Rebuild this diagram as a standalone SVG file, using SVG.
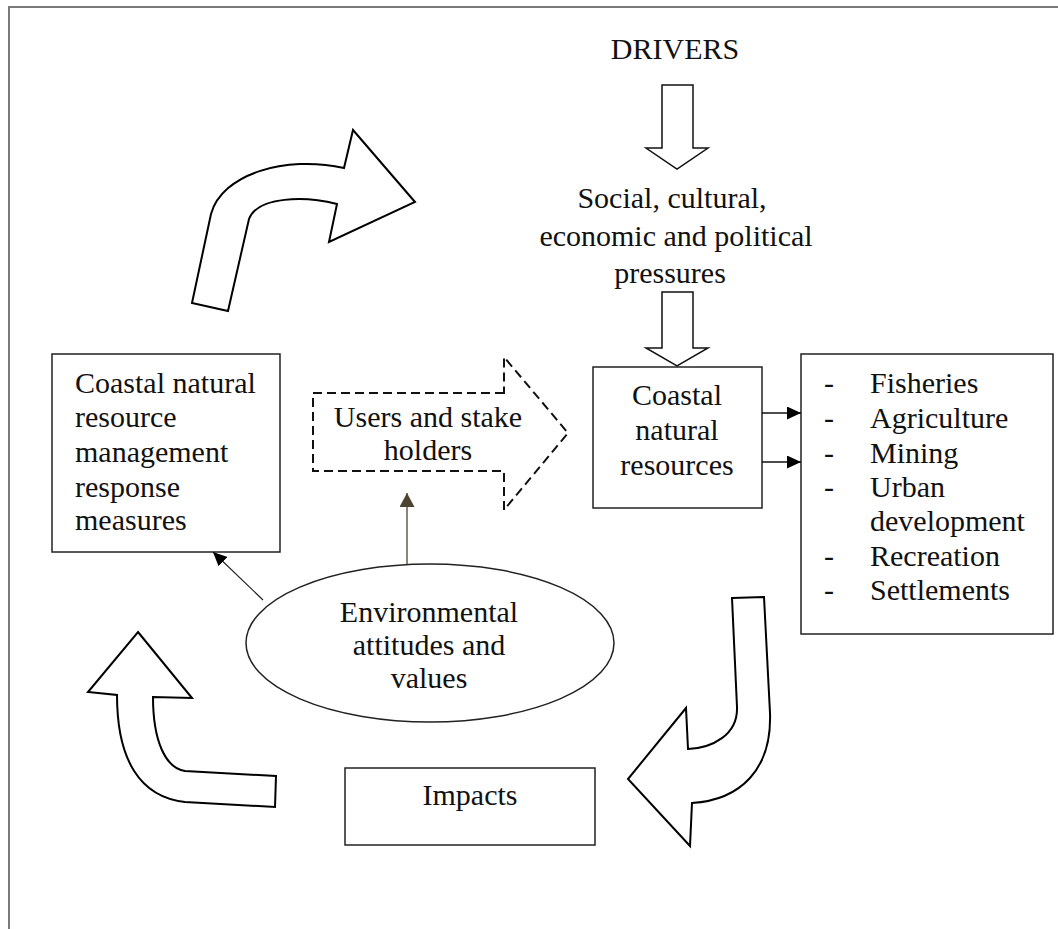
<svg xmlns="http://www.w3.org/2000/svg" width="1058" height="929" viewBox="0 0 1058 929">
  <style>
    text { font-family: "Liberation Serif", "Times New Roman", serif; font-size: 30px; fill: #111; }
    .c { text-anchor: middle; }
    .box { fill: #fff; stroke: #222; stroke-width: 1.5; }
    .bend { fill: #fff; stroke: #000; stroke-width: 2; stroke-linejoin: miter; }
    .block { fill: #fff; stroke: #111; stroke-width: 1.5; }
    .dash { fill: none; stroke: #111; stroke-width: 2; stroke-dasharray: 9 5; }
    .link { fill: none; stroke: #111; stroke-width: 1.5; }
  </style>
  <defs>
    <marker id="headBlack" markerUnits="userSpaceOnUse" markerWidth="15" markerHeight="14" refX="14" refY="6.5" orient="auto">
      <path d="M0,0 L14,6.5 L0,13 Z" fill="#000"/>
    </marker>
    <marker id="headOlive" markerUnits="userSpaceOnUse" markerWidth="15" markerHeight="16" refX="14" refY="7.5" orient="auto">
      <path d="M0,0 L14,7.5 L0,15 Z" fill="#4a4431"/>
    </marker>
  </defs>

  <!-- page frame -->
  <path d="M9,929 L9,7 L1058,7" fill="none" stroke="#7a7a7a" stroke-width="2"/>

  <!-- drivers -->
  <g id="drivers">
    <text class="c" x="675" y="59">DRIVERS</text>
  </g>

  <g id="pressures">
    <text class="c" x="672" y="208">Social, cultural,</text>
    <text class="c" x="676" y="246">economic and political</text>
    <text class="c" x="670" y="283">pressures</text>
  </g>

  <g id="resources">
    <rect class="box" x="593" y="367" width="169" height="141"/>
    <text class="c" x="677" y="405">Coastal</text>
    <text class="c" x="677" y="440">natural</text>
    <text class="c" x="677" y="475">resources</text>
  </g>

  <g id="uses">
    <rect class="box" x="801" y="354" width="252" height="280"/>
    <g>
      <text x="824" y="393">-</text>
      <text x="824" y="428">-</text>
      <text x="824" y="463">-</text>
      <text x="824" y="497">-</text>
      <text x="824" y="566">-</text>
      <text x="824" y="600">-</text>
    </g>
    <text x="870" y="393">Fisheries</text>
    <text x="870" y="428">Agriculture</text>
    <text x="870" y="463">Mining</text>
    <text x="870" y="497">Urban</text>
    <text x="870" y="531">development</text>
    <text x="870" y="566">Recreation</text>
    <text x="870" y="600">Settlements</text>
  </g>

  <g id="response">
    <rect class="box" x="52" y="354" width="228" height="198"/>
    <text x="75" y="393">Coastal natural</text>
    <text x="75" y="427">resource</text>
    <text x="75" y="462">management</text>
    <text x="75" y="497">response</text>
    <text x="75" y="530">measures</text>
  </g>

  <g id="stakeholders">
    <path class="dash" d="M504,393 L313,393 L313,471 L504,471 L504,510 L568,433 L504,357 Z"/>
    <text class="c" x="428" y="427">Users and stake</text>
    <text class="c" x="428" y="460">holders</text>
  </g>

  <g id="attitudes">
    <ellipse class="box" cx="430" cy="643" rx="184" ry="79" stroke="#000" stroke-width="2"/>
    <text class="c" x="429" y="622">Environmental</text>
    <text class="c" x="429" y="655">attitudes and</text>
    <text class="c" x="429" y="688">values</text>
  </g>

  <g id="impacts">
    <rect class="box" x="345" y="768" width="250" height="77"/>
    <text class="c" x="470" y="805">Impacts</text>
  </g>

  <!-- connectors -->
  <g id="connectors">
    <!-- block arrows feeding the resources -->
    <path class="block" d="M662,85 L693,85 L693,148 L708,148 L677,169 L646,148 L662,148 Z"/>
    <path class="block" d="M662,292 L693,292 L693,348 L708,348 L677,366 L646,348 L662,348 Z"/>

    <!-- resources to uses -->
    <line class="link" x1="762" y1="413" x2="801" y2="413" marker-end="url(#headBlack)"/>
    <line class="link" x1="762" y1="462" x2="801" y2="462" marker-end="url(#headBlack)"/>

    <!-- attitudes to response and stakeholders -->
    <line x1="263" y1="600" x2="213" y2="552" stroke="#222" stroke-width="1.2" marker-end="url(#headBlack)"/>
    <line x1="407" y1="564" x2="407" y2="493" stroke="#4a4431" stroke-width="1.3" marker-end="url(#headOlive)"/>

    <!-- bent cycle arrows -->
    <path class="bend" d="M192,303 L211,214 C222,174 285,155 344,168 L353,130 L415,202 L329,242 L337,204 C305,196 258,196 249,219 L228,311 Z"/>
    <path class="bend" d="M732,598 L764,597 L770,713 C772,770 740,800 692,803 L690,846 L628,779 L686,708 L688,749 C712,748 738,735 737,707 Z"/>
    <path class="bend" d="M138,632 L192,698 L153,697 C153,740 165,768 185,771 L276,776 L275,807 L185,802 C140,797 117,760 117,695 L88,692 Z"/>
  </g>
</svg>
